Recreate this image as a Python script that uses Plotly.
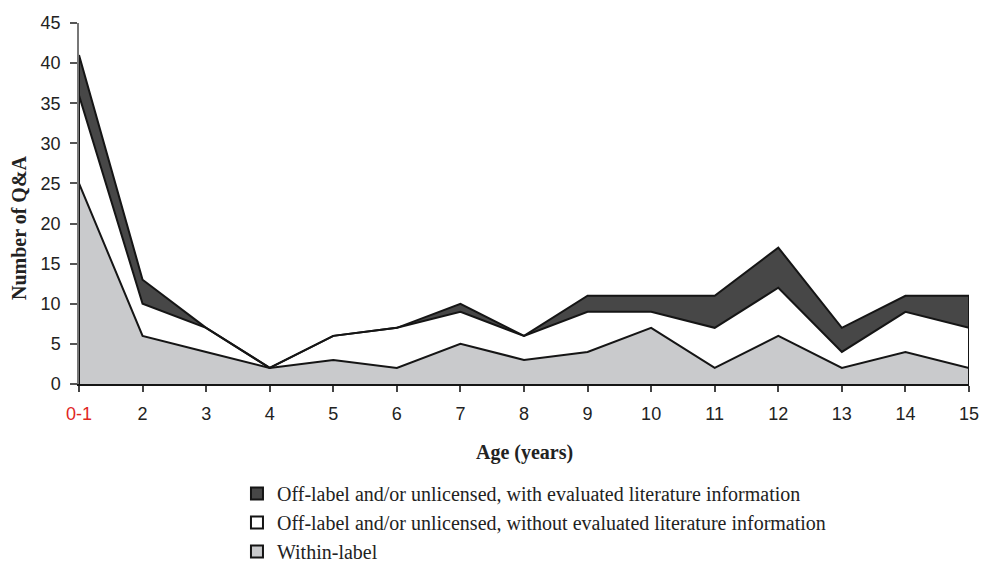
import plotly.graph_objects as go

categories = ["0-1", "2", "3", "4", "5", "6", "7", "8", "9", "10", "11", "12", "13", "14", "15"]
within_label = [25, 6, 4, 2, 3, 2, 5, 3, 4, 7, 2, 6, 2, 4, 2]
without_lit = [11, 4, 3, 0, 3, 5, 4, 3, 5, 2, 5, 6, 2, 5, 5]
with_lit = [5, 3, 0, 0, 0, 0, 1, 0, 2, 2, 4, 5, 3, 2, 4]
y_ticks = [0, 5, 10, 15, 20, 25, 30, 35, 40, 45]

names = [
    "Off-label and/or unlicensed, with evaluated literature information",
    "Off-label and/or unlicensed, without evaluated literature information",
    "Within-label",
]
colors = ["#474747", "#ffffff", "#c9cacc"]

x = list(range(len(categories)))
lvl1 = within_label
lvl2 = [a + b for a, b in zip(lvl1, without_lit)]
lvl3 = [a + b for a, b in zip(lvl2, with_lit)]

LINE = dict(color="#151515", width=2)
fig = go.Figure()
fig.add_trace(go.Scatter(x=x, y=[0] * len(x), mode="lines", line=dict(width=0), showlegend=False, hoverinfo="skip"))
fig.add_trace(go.Scatter(x=x, y=lvl1, mode="lines", fill="tonexty", fillcolor=colors[2], line=LINE, showlegend=False))
fig.add_trace(go.Scatter(x=x, y=lvl2, mode="lines", fill="tonexty", fillcolor=colors[1], line=LINE, showlegend=False))
fig.add_trace(go.Scatter(x=x, y=lvl3, mode="lines", fill="tonexty", fillcolor=colors[0], line=LINE, showlegend=False))
# closing edges of the stacked area
for xi in (x[0], x[-1]):
    fig.add_trace(go.Scatter(x=[xi, xi], y=[0, lvl3[xi]], mode="lines", line=LINE,
                             showlegend=False, hoverinfo="skip", cliponaxis=False))

for i, (nm, c) in enumerate(zip(names, colors)):
    fig.add_trace(go.Scatter(x=[None], y=[None], mode="markers", name=nm, legendgroup=f"g{i}",
                             marker=dict(symbol="square", size=13, color=c, line=dict(color="#151515", width=1))))

fig.update_layout(
    width=982, height=567,
    margin=dict(l=79, r=13, t=23, b=183, autoexpand=False),
    plot_bgcolor="white", paper_bgcolor="white",
    showlegend=True,
    legend=dict(x=0.1775, xanchor="left", y=-0.2493, yanchor="top", orientation="v",
                traceorder="grouped", tracegroupgap=0,
                font=dict(family="Liberation Serif", size=20, color="#222"),
                itemsizing="constant", bgcolor="rgba(0,0,0,0)", borderwidth=0),
    font=dict(family="Liberation Sans", size=18, color="#222"),
    annotations=[
        dict(text="<b>Age (years)</b>", xref="paper", yref="paper", x=0.5, y=-0.191,
             xanchor="center", yanchor="middle", showarrow=False,
             font=dict(family="Liberation Serif", size=20, color="#222")),
        dict(text="<b>Number of Q&A</b>", xref="paper", yref="paper", x=-0.0674, y=0.432,
             xanchor="center", yanchor="middle", showarrow=False, textangle=-90,
             font=dict(family="Liberation Serif", size=20, color="#222")),
    ],
)
fig.update_xaxes(
    range=[0, len(categories) - 1], tickmode="array", tickvals=x,
    ticktext=['<span style="color:#e0261f">0-1</span>'] + categories[1:],
    showgrid=False, zeroline=False, showline=True, linecolor="#151515", linewidth=2,
    ticks="outside", ticklen=6, tickcolor="#444", tickwidth=1.5, tickfont=dict(size=18),
    ticklabelstandoff=6,
)
fig.update_yaxes(
    range=[0, 45], tickvals=y_ticks, showgrid=False, zeroline=False,
    showline=True, linecolor="#777", linewidth=1.5,
    ticks="outside", ticklen=7, tickcolor="#555", tickwidth=1.5, tickfont=dict(size=18),
    ticklabelstandoff=6,
)

fig.write_html("out.html", config={"displayModeBar": False},
               post_script="document.body.style.margin='0px';")
